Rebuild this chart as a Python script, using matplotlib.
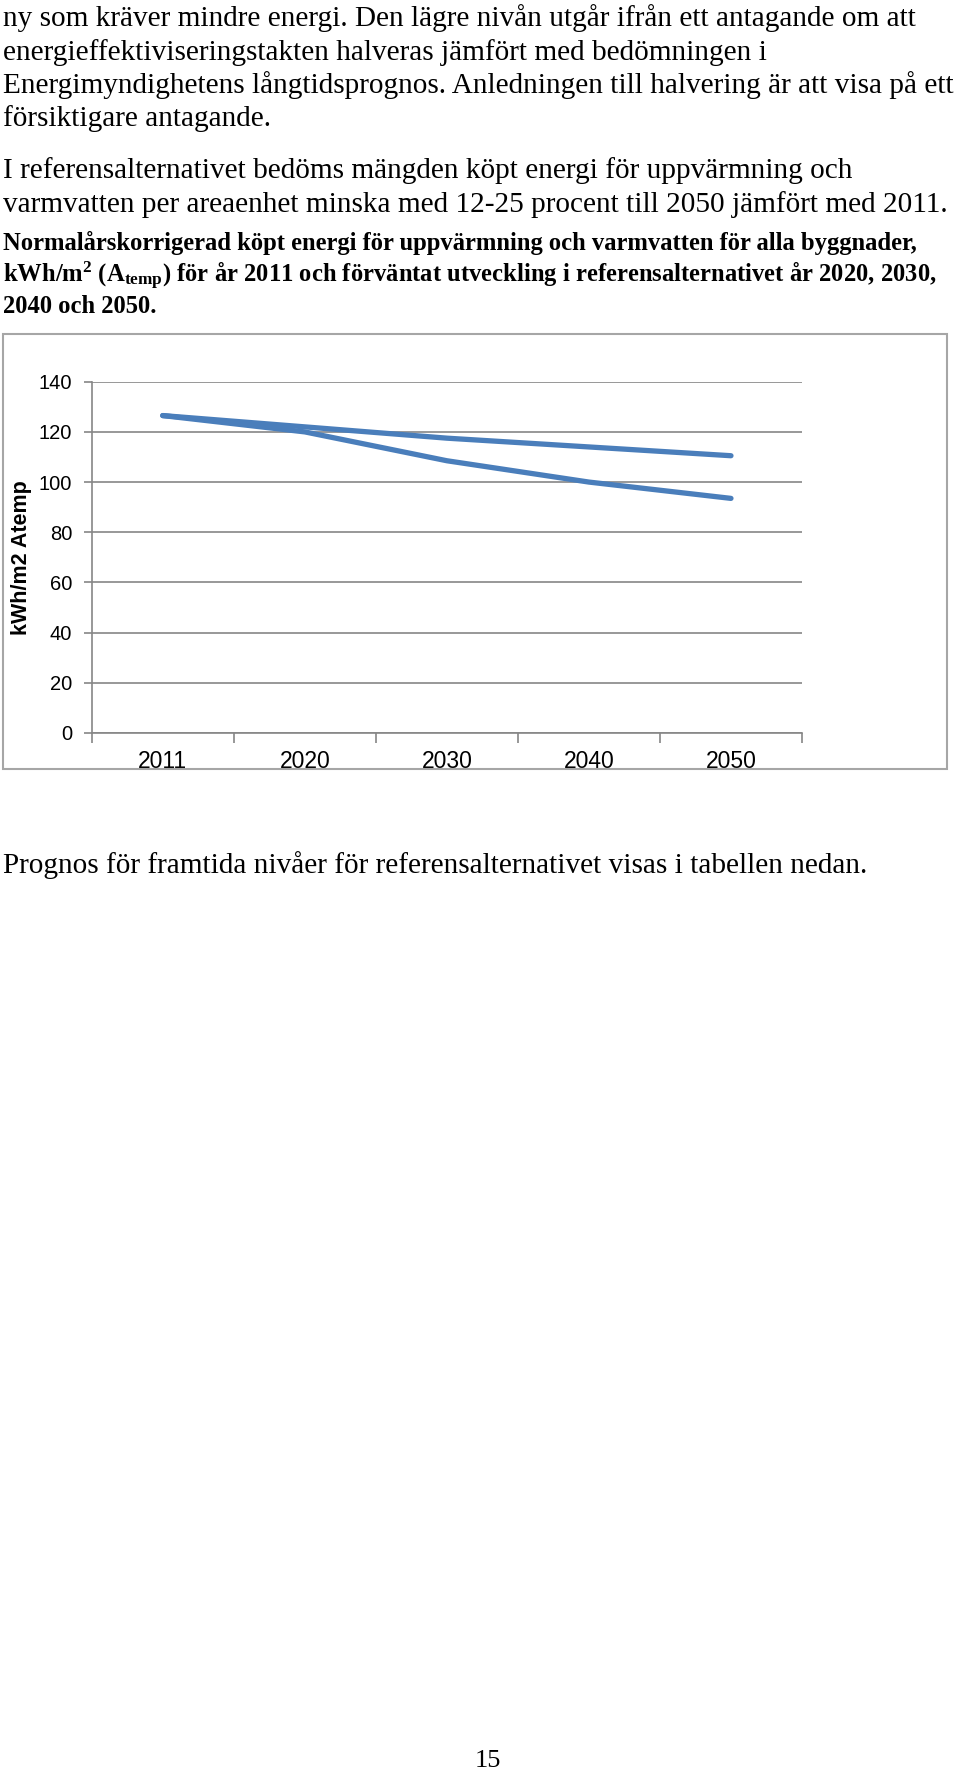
import matplotlib
matplotlib.use("Agg")
import matplotlib.pyplot as plt
from matplotlib.patches import Rectangle

plt.rcParams["mathtext.fontset"] = "custom"
plt.rcParams["mathtext.rm"] = "Liberation Serif:bold"
plt.rcParams["mathtext.bf"] = "Liberation Serif:bold"
plt.rcParams["mathtext.it"] = "Liberation Serif:bold"

# Data
years = ["2011", "2020", "2030", "2040", "2050"]
serie_hog = [126.5, 122.0, 117.5, 114.0, 110.5]
serie_lag = [126.5, 120.0, 108.5, 100.0, 93.5]
y_ticks = [0, 20, 40, 60, 80, 100, 120, 140]

stycke1 = [
    "ny som kräver mindre energi. Den lägre nivån utgår ifrån ett antagande om att",
    "energieffektiviseringstakten halveras jämfört med bedömningen i",
    "Energimyndighetens långtidsprognos. Anledningen till halvering är att visa på ett",
    "försiktigare antagande.",
]
stycke2 = [
    "I referensalternativet bedöms mängden köpt energi för uppvärmning och",
    "varmvatten per areaenhet minska med 12-25 procent till 2050 jämfört med 2011.",
]
rubrik = [
    "Normalårskorrigerad köpt energi för uppvärmning och varmvatten för alla byggnader,",
    r"kWh/m$^{2}$ (A$_{\mathrm{temp}}$) för år 2011 och förväntat utveckling i referensalternativet år 2020, 2030,",
    "2040 och 2050.",
]
efter = "Prognos för framtida nivåer för referensalternativet visas i tabellen nedan."
sidnr = "15"

W, H = 960, 1770
fig = plt.figure(figsize=(W / 100, H / 100), dpi=100)

def fy(px):
    return 1 - px / H

x0 = 3.4 / W
brod = 21.1  # brödtext
for txt, base in zip(stycke1, [26, 59.5, 93, 126.5]):
    fig.text(x0, fy(base), txt, family="Liberation Serif", fontsize=brod, va="baseline")
for txt, base in zip(stycke2, [178, 212]):
    fig.text(x0, fy(base), txt, family="Liberation Serif", fontsize=brod, va="baseline")
for txt, base in zip(rubrik, [250, 282, 313]):
    fig.text(x0, fy(base), txt, family="Liberation Serif", fontsize=17.7,
             fontweight="bold", va="baseline")
fig.text(x0, fy(873), efter, family="Liberation Serif", fontsize=brod, va="baseline")
fig.text(488 / W, fy(1767), sidnr, family="Liberation Serif", fontsize=19,
         va="baseline", ha="center")

# Ram runt diagrammet
fig.patches.append(Rectangle((3.3 / W, fy(769)), (947 - 3.3) / W, (769 - 334) / H,
                             transform=fig.transFigure, fill=False,
                             edgecolor="#a6a6a6", linewidth=1.5))

ax = fig.add_axes([91.7 / W, fy(733), (802 - 91.7) / W, (733 - 381.7) / H])
x = range(len(years))
grid_c = "#868686"
ax.plot(x, serie_hog, color="#4a7ebb", linewidth=3.8, solid_capstyle="round",
        solid_joinstyle="round")
ax.plot(x, serie_lag, color="#4a7ebb", linewidth=3.8, solid_capstyle="round",
        solid_joinstyle="round")

ax.set_xlim(-0.5, len(years) - 0.5)
ax.set_ylim(0, 140)
ax.set_yticks(y_ticks)
ax.set_yticklabels([str(v) for v in y_ticks], family="Liberation Sans", fontsize=14.5)
ax.set_xticks([i + 0.5 for i in range(-1, len(years))], minor=False)
ax.set_xticklabels([])
ax.set_xticks(list(x), minor=True)
ax.set_xticklabels(years, minor=True, family="Liberation Sans", fontsize=16.5)
ax.tick_params(axis="x", which="major", direction="out", length=7, width=1.2,
               color=grid_c)
ax.tick_params(axis="x", which="minor", length=0, pad=12)
ax.tick_params(axis="y", direction="out", length=6, width=1.2, color=grid_c, pad=8)
ax.grid(axis="y", color=grid_c, linewidth=1.2)
ax.set_axisbelow(True)
for s in ["top", "right"]:
    ax.spines[s].set_visible(False)
for s in ["left", "bottom"]:
    ax.spines[s].set_color(grid_c)
    ax.spines[s].set_linewidth(1.2)

fig.text(22 / W, fy(558), "kWh/m2 Atemp", family="Liberation Sans", fontsize=15.5,
         fontweight="bold", rotation=90, ha="center", va="center")

fig.savefig("out.png", dpi=100)
